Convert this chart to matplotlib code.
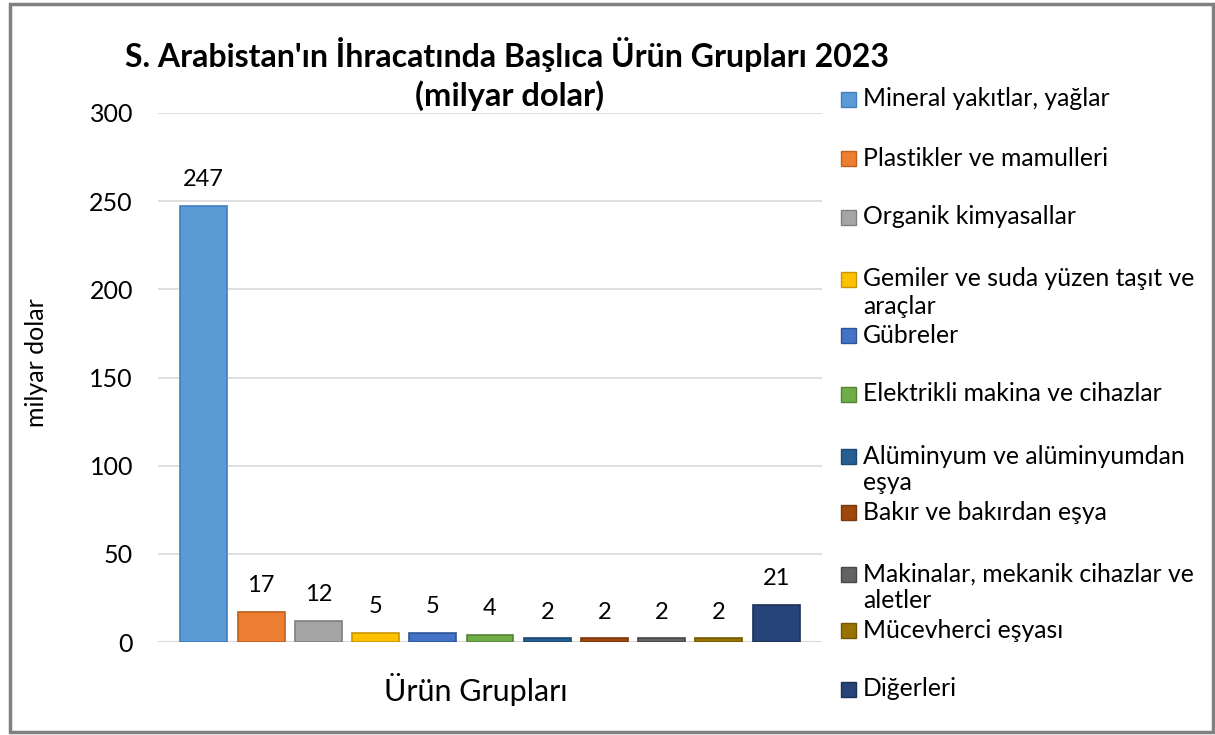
import matplotlib
matplotlib.use('Agg')
from matplotlib import pyplot as plt
from matplotlib.patches import Rectangle

plt.rcParams['font.family'] = ['Lato', 'DejaVu Sans']

categories = ['Mineral yakıtlar, yağlar', 'Plastikler ve mamulleri', 'Organik kimyasallar',
              'Gemiler ve suda yüzen taşıt ve\naraçlar', 'Gübreler', 'Elektrikli makina ve cihazlar',
              'Alüminyum ve alüminyumdan\neşya', 'Bakır ve bakırdan eşya',
              'Makinalar, mekanik cihazlar ve\naletler', 'Mücevherci eşyası', 'Diğerleri']
values = [247, 17, 12, 5, 5, 4, 2, 2, 2, 2, 21]
colors = ['#5B9BD5', '#ED7D31', '#A5A5A5', '#FFC000', '#4472C4', '#70AD47',
          '#255E91', '#9E480E', '#636363', '#997300', '#264478']
edges = ['#3F7FC0', '#C0601A', '#7F7F7F', '#C89600', '#2F5597', '#548235',
         '#1B4770', '#7A370A', '#474747', '#735700', '#1A3055']
yticks = [0, 50, 100, 150, 200, 250, 300]

W, H = 1215, 735
fig = plt.figure(figsize=(W / 100, H / 100), dpi=100)
ax = fig.add_axes([158 / W, 1 - 642 / H, (822 - 158) / W, (642 - 113) / H])

x = list(range(len(values)))
bars = ax.bar(x, values, width=0.82, color=colors, edgecolor=edges, linewidth=1.2, zorder=3)
for xi, v in zip(x, values):
    ax.annotate(str(v), (xi, v), xytext=(0, 11.5), textcoords='offset points',
                ha='center', va='bottom', fontsize=17)

ax.set_xlim(-0.8, 10.8)
ax.set_ylim(0, 300)
ax.set_yticks(yticks)
ax.set_xticks([])
ax.tick_params(axis='y', length=0, labelsize=18, pad=18)
ax.grid(axis='y', color='#D9D9D9', linewidth=1.2, zorder=0)
for s in ax.spines.values():
    s.set_visible(False)
ax.axhline(0, color='#D9D9D9', linewidth=1.5, zorder=2)

fig.text(36 / W, 1 - 363 / H, 'milyar dolar', rotation=90, ha='center', va='center', fontsize=18)
fig.text(476 / W, 1 - 690 / H, 'Ürün Grupları', ha='center', va='center', fontsize=22)
fig.text(507 / W, 1 - 55 / H, "S. Arabistan'ın İhracatında Başlıca Ürün Grupları 2023",
         ha='center', va='center', fontsize=23, fontweight='bold')
fig.text(510 / W, 1 - 96 / H, '(milyar dolar)', ha='center', va='center', fontsize=23.5, fontweight='bold')

# legend, drawn by hand so wrapped entries spill downward like the original
for i, (lab, c, e) in enumerate(zip(categories, colors, edges)):
    yc = 99 + 59 * i
    lines = lab.split('\n')
    if len(lines) > 1:
        yc += 3
    fig.add_artist(Rectangle((841 / W, 1 - (yc + 8) / H), 15 / W, 15 / H,
                             transform=fig.transFigure, facecolor=c, edgecolor=e, linewidth=1))
    for k, line in enumerate(lines):
        fig.text(863 / W, 1 - (yc + 27 * k) / H, line, ha='left', va='center', fontsize=17.8)

fig.add_artist(Rectangle((9.5 / W, 3.5 / H), 1203 / W, 728 / H, transform=fig.transFigure,
                         fill=False, edgecolor='#808080', linewidth=2.5))

fig.savefig('out.png', dpi=100)
